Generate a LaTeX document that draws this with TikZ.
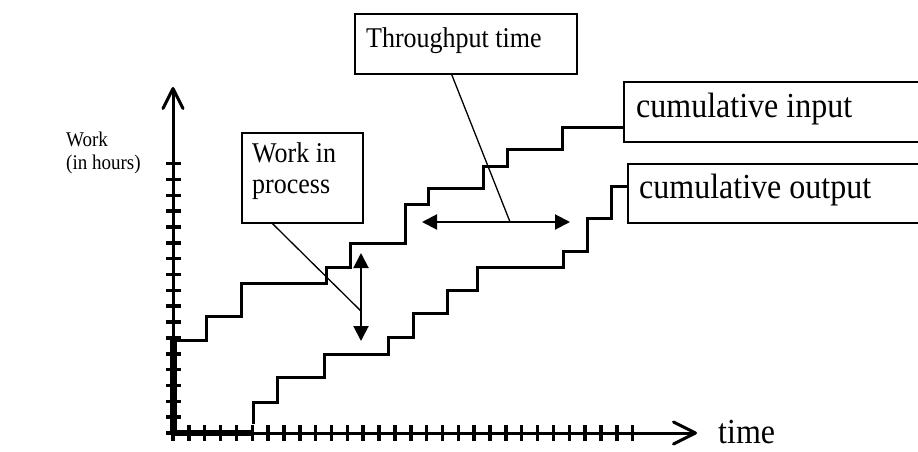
\documentclass[tikz,border=0pt]{standalone}
\usepackage{fontspec}
\setmainfont{Liberation Serif}
\usepackage{graphicx}
\usetikzlibrary{arrows.meta,calc}
\newcommand{\vstretch}[1]{\scalebox{1}[1.1]{#1}}
\begin{document}
\begin{tikzpicture}[x=1pt,y=-1pt,
  axisline/.style={line width=3pt},
  axtick/.style={line width=3.5pt},
  stepcurve/.style={line width=3pt, line join=miter},
  box/.style={draw, line width=1.5pt, rectangle, inner sep=0pt, anchor=north west},
  leader/.style={line width=1.3pt},
  dbl/.style={line width=2pt, {Triangle[length=15pt,width=15pt]}-{Triangle[length=15pt,width=15pt]}},
  lbl/.style={inner sep=0pt, anchor=base west},
  big/.style={font=\fontsize{32}{36}\selectfont},
  mid/.style={font=\fontsize{26}{30}\selectfont},
  small/.style={font=\fontsize{26}{30}\selectfont},
  tiny/.style={font=\fontsize{19}{23}\selectfont}]
\useasboundingbox (0,0) rectangle (918,451);

% axes
\coordinate (O) at (173,433);
\coordinate (ytip) at (173,87);
\coordinate (xtip) at (697,433);
\draw[line width=7pt] (173,339) -- (O);
\draw[line width=5.5pt] (O) -- (253,433);
\draw[axisline, -{Straight Barb[length=20pt,width=20pt,round]}] (O) -- (ytip);
\draw[axisline, -{Straight Barb[length=22pt,width=22pt,round]}] (O) -- (xtip);
\foreach \k in {0,...,17} \draw[axtick] (166,{433-15.85*\k}) -- (181,{433-15.85*\k});
\foreach \k in {0,...,29} \draw[axtick] ({173+15.85*\k},425) -- ({173+15.85*\k},441);

% boxes
\node[box, minimum width=222pt, minimum height=60pt] (tpbox) at (354,13) {};
\node[box, minimum width=121pt, minimum height=90pt] (wipbox) at (241,132) {};
\node[box, minimum width=320pt, minimum height=60pt] (inbox) at (623,81) {};
\node[box, minimum width=320pt, minimum height=59pt] (outbox) at (627,163) {};

% texts
\node[lbl, small] (tptext) at (366,47) {\vstretch{Throughput time}};
\node[lbl, mid] (wip1) at (252,162) {\vstretch{Work in}};
\node[lbl, mid] (wip2) at (252,193) {\vstretch{process}};
\node[lbl, big] (intext) at (636,117) {\vstretch{cumulative input}};
\node[lbl, big] (outtext) at (639,198) {\vstretch{cumulative output}};
\node[lbl, big] (timetext) at (718,443) {\vstretch{time}};
\node[lbl, tiny] (ylab1) at (66,146) {\vstretch{Work}};
\node[lbl, tiny] (ylab2) at (66,169) {\vstretch{(in hours)}};

% cumulative input
\draw[stepcurve] (173,340) -- (206,340) -- (206,316) -- (241,316) -- (241,283)
  -- (326,283) -- (326,267) -- (350,267) -- (350,243) -- (405,243) -- (405,204)
  -- (428,204) -- (428,188) -- (483,188) -- (483,166) -- (507,166) -- (507,149)
  -- (562,149) -- (562,127) -- (inbox.west |- 0,127);

% cumulative output
\draw[stepcurve] (253,424) -- (253,402) -- (277,402) -- (277,377) -- (324,377)
  -- (324,354) -- (388,354) -- (388,337) -- (413,337) -- (413,313) -- (447,313)
  -- (447,290) -- (477,290) -- (477,267) -- (563,267) -- (563,251) -- (587,251)
  -- (587,218) -- (611,218) -- (611,186) -- (outbox.west |- 0,186);

% double arrows
\coordinate (tpL) at (422,222);
\coordinate (tpR) at (570,222);
\draw[dbl] (tpL) -- (tpR);
\coordinate (wipT) at (361,253);
\coordinate (wipB) at (361,341);
\draw[dbl] (wipT) -- (wipB);

% leaders
\draw[leader] ($(tpbox.south west)!0.437!(tpbox.south east)$) -- ($(tpL)!0.595!(tpR)$);
\draw[leader] ($(wipbox.south west)!0.256!(wipbox.south east)$) -- ($(wipT)!0.66!(wipB)$);
\end{tikzpicture}
\end{document}
